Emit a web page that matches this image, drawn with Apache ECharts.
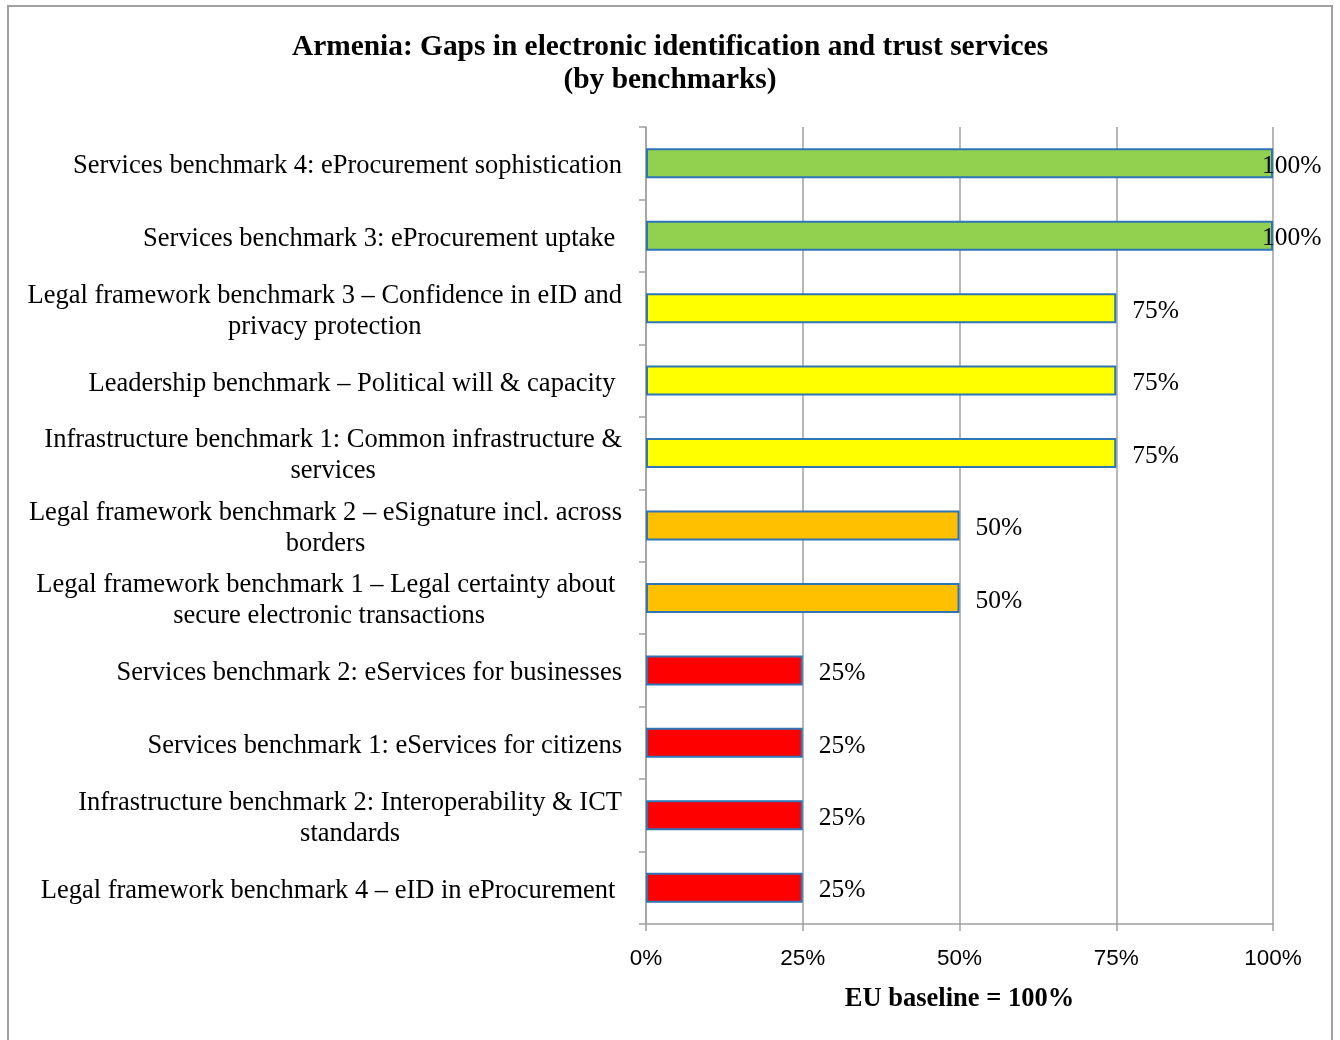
<!DOCTYPE html>
<html>
<head>
<meta charset="utf-8">
<script src="https://cdn.jsdelivr.net/npm/echarts@6/dist/echarts.min.js"></script>
<style>
  html, body { margin: 0; padding: 0; background: #ffffff; }
  #chart { width: 1340px; height: 1040px; }
</style>
</head>
<body>
<div id="chart"></div>
<script>
// Benchmarks, listed top to bottom
const categories = [
  'Services benchmark 4: eProcurement sophistication',
  'Services benchmark 3: eProcurement uptake ',
  'Legal framework benchmark 3 \u2013 Confidence in eID and\nprivacy protection',
  'Leadership benchmark \u2013 Political will & capacity ',
  'Infrastructure benchmark 1: Common infrastructure &\nservices',
  'Legal framework benchmark 2 \u2013 eSignature incl. across\nborders',
  'Legal framework benchmark 1 \u2013 Legal certainty about \nsecure electronic transactions',
  'Services benchmark 2: eServices for businesses',
  'Services benchmark 1: eServices for citizens',
  'Infrastructure benchmark 2: Interoperability & ICT\nstandards',
  'Legal framework benchmark 4 \u2013 eID in eProcurement '
];
// Share of the EU baseline, in percent
const values = [100, 100, 75, 75, 75, 50, 50, 25, 25, 25, 25];
const xTicks = [0, 25, 50, 75, 100];

const SERIF = '"Liberation Serif", "Times New Roman", serif';
const SANS = '"Liberation Sans", Arial, sans-serif';

// Fill colour by gap level
function levelColor(v) {
  if (v >= 100) return '#92D050';
  if (v >= 75) return '#FFFF00';
  if (v >= 50) return '#FFC000';
  return '#FF0000';
}

const barData = values.map(function (v) {
  const item = {
    value: v,
    itemStyle: { color: levelColor(v) }
  };
  // full-length bars: keep the label inside the chart frame
  if (v >= xTicks[xTicks.length - 1]) {
    item.label = { offset: [-27, 3] };
  }
  return item;
});

const chart = echarts.init(document.getElementById('chart'), null, { renderer: 'canvas' });

chart.setOption({
  animation: false,
  backgroundColor: '#ffffff',
  title: {
    text: 'Armenia: Gaps in electronic identification and trust services\n(by benchmarks)',
    left: 'center',
    top: 26,
    textStyle: {
      fontFamily: SERIF,
      fontWeight: 'bold',
      fontSize: 29.4,
      lineHeight: 33,
      color: '#000000'
    }
  },
  graphic: [{
    type: 'rect',
    shape: { x: 8, y: 6, width: 1324, height: 1040 },
    style: { fill: 'none', stroke: '#a0a0a0', lineWidth: 2 },
    silent: true
  }],
  grid: {
    left: 646,
    right: 67,
    top: 127,
    bottom: 116,
    containLabel: false
  },
  xAxis: {
    type: 'value',
    min: xTicks[0],
    max: xTicks[xTicks.length - 1],
    interval: 25,
    name: 'EU baseline = 100%',
    nameLocation: 'middle',
    nameGap: 62,
    nameTextStyle: {
      fontFamily: SERIF,
      fontWeight: 'bold',
      fontSize: 26.5,
      color: '#000000'
    },
    axisLine: { show: true, lineStyle: { color: '#a0a0a0', width: 1.5 } },
    axisTick: { show: true, length: 7, lineStyle: { color: '#a0a0a0', width: 1.5 } },
    splitLine: { show: true, lineStyle: { color: '#a0a0a0', width: 1.5 } },
    axisLabel: {
      margin: 23,
      fontFamily: SANS,
      fontSize: 22.5,
      color: '#000000',
      formatter: '{value}%'
    }
  },
  yAxis: {
    type: 'category',
    inverse: true,
    data: categories,
    axisLine: { show: true, lineStyle: { color: '#a0a0a0', width: 1.5 } },
    axisTick: { show: true, length: 7, lineStyle: { color: '#a0a0a0', width: 1.5 } },
    axisLabel: {
      margin: 24,
      interval: 0,
      padding: [6, 0, 0, 0],
      formatter: function (name) {
        return name.split('\n').map(function (line) {
          return '{c|' + line + '}';
        }).join('\n');
      },
      rich: {
        c: {
          align: 'center',
          fontFamily: SERIF,
          fontSize: 26.5,
          lineHeight: 31,
          color: '#000000'
        }
      }
    }
  },
  series: [{
    type: 'bar',
    data: barData,
    barWidth: 30,
    itemStyle: {
      borderColor: '#2E75B6',
      borderWidth: 2
    },
    label: {
      show: true,
      position: 'right',
      distance: 16,
      offset: [0, 3],
      fontFamily: SERIF,
      fontSize: 25.5,
      color: '#000000',
      formatter: '{c}%'
    }
  }]
});
</script>
</body>
</html>
